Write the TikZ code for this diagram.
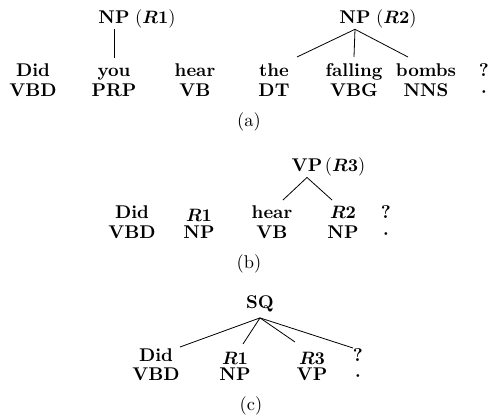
\documentclass[tikz,border=0pt]{standalone}
\usepackage{amsmath}
\usetikzlibrary{calc}
\begin{document}
\begin{tikzpicture}[x=0.5587pt,y=-0.5587pt,
  every node/.style={font=\fontsize{10.3}{12.4}\selectfont, inner sep=3.33pt},
  wd/.style={font=\fontsize{10.3}{12.4}\selectfont\bfseries, anchor=base},
  tg/.style={font=\fontsize{10.3}{12.4}\selectfont\bfseries, anchor=base},
  ph/.style={font=\fontsize{10.3}{12.4}\selectfont\bfseries, anchor=base},
  rl/.style={anchor=base west, inner sep=0pt},
  captxt/.style={anchor=base},
  treeline/.style={line width=0.45pt}]
\useasboundingbox (0,0) rectangle (494,420);
% ---------- (a) ----------
\node[wd] (a1) at (33,76) {Did};   \node[tg] (a1t) at (33,96) {VBD};
\node[wd] (a2) at (114,76) {you};  \node[tg] (a2t) at (114,96) {PRP};
\node[wd] (a3) at (195,76) {hear}; \node[tg] (a3t) at (195,96) {VB};
\node[wd] (a4) at (274,76) {the};  \node[tg] (a4t) at (274,96) {DT};
\node[wd] (a5) at (354,76) {falling}; \node[tg] (a5t) at (354,96) {VBG};
\node[wd] (a6) at (426,76) {bombs};   \node[tg] (a6t) at (426,96) {NNS};
\node[wd] (a7) at (484,76) {?};    \node[tg] (a7t) at (484,96) {{\boldmath$\cdot$}};
\node[ph] (np1) at (114,23) {NP};
\node[rl] (np1r) at ($(np1.base east)+(-1,0)$) {({\boldmath$R1$})};
\node[ph] (np2) at (355,23) {NP};
\node[rl] (np2r) at ($(np2.base east)+(-1,0)$) {({\boldmath$R2$})};
\draw[treeline] (np1.south) -- ($(a2.base)+(0,-18)$);
\draw[treeline] (np2.south) -- ($(a4.base)+(23,-19)$);
\draw[treeline] (np2.south) -- ($(a5.base)+(0,-19)$);
\draw[treeline] (np2.south) -- ($(a6.base)+(-18,-19)$);
\node[captxt] (capa) at (249,126) {(a)};
% ---------- (b) ----------
\node[wd] (b1) at (132,218) {Did};  \node[tg] (b1t) at (132,238) {VBD};
\node[wd] (b2) at (199,221) {{\boldmath$R1$}}; \node[tg] (b2t) at (199,238) {NP};
\node[wd] (b3) at (272,218) {hear}; \node[tg] (b3t) at (272,238) {VB};
\node[wd] (b4) at (343,218) {{\boldmath$R2$}}; \node[tg] (b4t) at (343,238) {NP};
\node[wd] (b5) at (386,218) {?};    \node[tg] (b5t) at (386,238) {{\boldmath$\cdot$}};
\node[ph] (vp) at (307,171) {VP};
\node[rl] (vpr) at ($(vp.base east)+(-4,0)$) {({\boldmath$R3$})};
\draw[treeline] (vp.south) -- ($(b3.base)+(11,-18)$);
\draw[treeline] (vp.south) -- ($(b4.base)+(-11,-18)$);
\node[captxt] (capb) at (249,268) {(b)};
% ---------- (c) ----------
\node[wd] (c1) at (156,361) {Did};  \node[tg] (c1t) at (156,380) {VBD};
\node[wd] (c2) at (235,364) {{\boldmath$R1$}}; \node[tg] (c2t) at (235,380) {NP};
\node[wd] (c3) at (312,364) {{\boldmath$R3$}}; \node[tg] (c3t) at (312,380) {VP};
\node[wd] (c4) at (358,361) {?};    \node[tg] (c4t) at (358,380) {{\boldmath$\cdot$}};
\node[ph] (sq) at (260,308) {SQ};
\draw[treeline] (sq.south) -- ($(c1.base)+(24,-14)$);
\draw[treeline] (sq.south) -- ($(c2.base)+(8,-20)$);
\draw[treeline] (sq.south) -- ($(c3.base)+(-17,-22)$);
\draw[treeline] (sq.south) -- ($(c4.base)+(-5,-13)$);
\node[captxt] (capc) at (251,410) {(c)};
\end{tikzpicture}
\end{document}
